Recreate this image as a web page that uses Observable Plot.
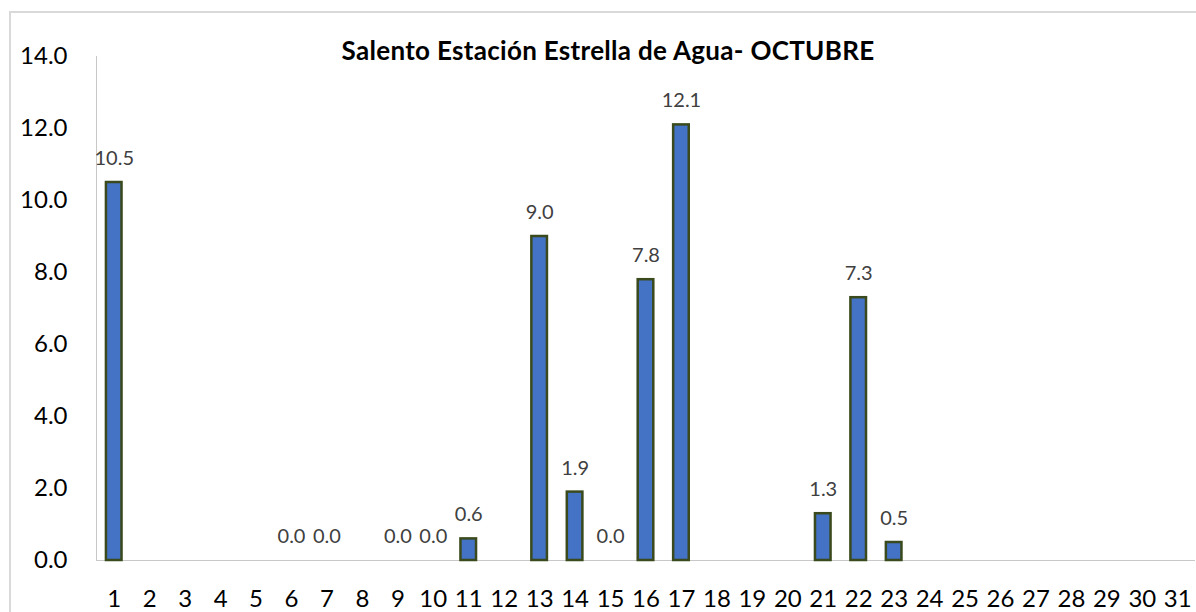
<!DOCTYPE html>
<html>
<head>
<meta charset="utf-8">
<script src="https://cdn.jsdelivr.net/npm/d3@7"></script>
<script src="https://cdn.jsdelivr.net/npm/@observablehq/plot@0.6"></script>
<style>
  html, body { margin: 0; padding: 0; background: #fff; }
  #wrap { position: relative; width: 1196px; height: 612px; overflow: hidden; }
  #border { position: absolute; left: 9px; top: 11px; width: 1300px; height: 700px;
            border-top: 2px solid #d9d9d9; border-left: 2px solid #d9d9d9; }
  #title { position: absolute; left: 0; width: 1216px; top: 37px; text-align: center; line-height: 26px;
           font-family: Lato, "Open Sans", sans-serif; font-weight: bold; font-size: 26px; letter-spacing: 0.3px; color: #000; }
  #chart { position: absolute; left: 0; top: 0; }
</style>
</head>
<body>
<div id="wrap">
  <div id="border"></div>
  <div id="chart"></div>
  <div id="title">Salento Estación Estrella de Agua- OCTUBRE</div>
</div>
<script>
const days = ["1","2","3","4","5","6","7","8","9","10","11","12","13","14","15","16","17","18","19","20","21","22","23","24","25","26","27","28","29","30","31"];
const rain = [10.5, null, null, null, null, 0.0, 0.0, null, 0.0, 0.0, 0.6, null, 9.0, 1.9, 0.0, 7.8, 12.1, null, null, null, 1.3, 7.3, 0.5, null, null, null, null, null, null, null, null];
const yTicks = [0, 2, 4, 6, 8, 10, 12, 14];

const data = days.map((d, i) => ({day: d, value: rain[i]}));
const withValue = data.filter(d => d.value !== null);
const bars = withValue.filter(d => d.value > 0);

const chart = Plot.plot({
  width: 1196,
  height: 612,
  marginLeft: 96,
  marginRight: 1,
  marginTop: 56,
  marginBottom: 52,
  style: {fontFamily: "Lato, 'Open Sans', sans-serif", background: "transparent"},
  x: {domain: days, paddingInner: 0.56, paddingOuter: 0.28, round: false, label: null},
  y: {domain: [0, 14], label: null},
  marks: [
    Plot.frame({anchor: "left", stroke: "#c8c8c8", strokeWidth: 1}),
    Plot.ruleY([0], {stroke: "#c8c8c8", strokeWidth: 1}),
    Plot.barY(bars, {x: "day", y: "value", fill: "#4472c4", stroke: "#3a4a1c", strokeWidth: 2.5}),
    Plot.text(withValue, {x: "day", y: "value", text: d => d.value.toFixed(1), dy: -24,
      fontSize: 20, fill: "#404040"}),
    Plot.axisY(yTicks, {tickSize: 0, tickPadding: 29, tickFormat: d => d.toFixed(1), fontSize: 24, fill: "#000", label: null}),
    Plot.axisX({tickSize: 0, tickPadding: 29, fontSize: 24, fill: "#000", label: null})
  ]
});
document.getElementById("chart").appendChild(chart);
</script>
</body>
</html>
